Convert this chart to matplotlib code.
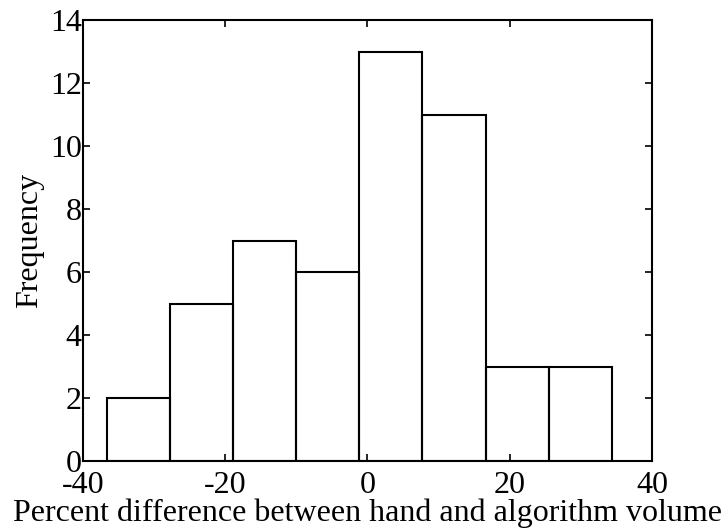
import numpy as np
import matplotlib
matplotlib.use("Agg")
import matplotlib.pyplot as plt

# histogram bins and counts
bin_edges = [-36.67, -27.79, -18.91, -10.03, -1.15, 7.73, 16.61, 25.49, 34.37]
counts = [2, 5, 7, 6, 13, 11, 3, 3]
xticks = [-40, -20, 0, 20, 40]
yticks = [0, 2, 4, 6, 8, 10, 12, 14]

plt.rcParams['font.family'] = ['Liberation Serif', 'DejaVu Serif']
plt.rcParams['axes.unicode_minus'] = False

fig = plt.figure(figsize=(7.22, 5.29), dpi=100)
ax = fig.add_axes([0.115, 0.128, 0.788, 0.834])

edges = np.array(bin_edges)
ax.bar(edges[:-1], counts, width=np.diff(edges), align='edge',
       fill=False, edgecolor='black', linewidth=1.5)

ax.set_xlim(-40, 40)
ax.set_ylim(0, 14)
ax.set_xticks(xticks)
ax.set_yticks(yticks)
ax.tick_params(direction='in', top=True, right=True, length=5, width=1.2,
               labelsize=23)
ax.tick_params(axis='x', pad=7)
ax.tick_params(axis='y', pad=1)
for s in ax.spines.values():
    s.set_linewidth(1.5)

ax.set_xlabel("Percent difference between hand and algorithm volume", fontsize=23, labelpad=-1)
ax.set_ylabel("Frequency", fontsize=23, labelpad=4)

fig.savefig("out.png", dpi=100)
